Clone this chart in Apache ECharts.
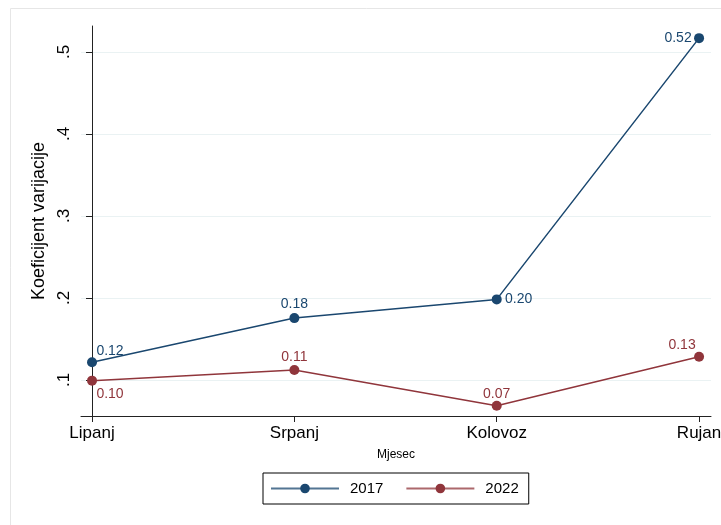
<!DOCTYPE html>
<html>
<head>
<meta charset="utf-8">
<script src="https://cdn.jsdelivr.net/npm/echarts@6/dist/echarts.min.js"></script>
<style>
html,body{margin:0;padding:0;background:#fff;overflow:hidden;}
#c{width:721px;height:525px;}
</style>
</head>
<body>
<div id="c"></div>
<script>
// Data
var categories = ['Lipanj', 'Srpanj', 'Kolovoz', 'Rujan'];
var seriesNames = ['2017', '2022'];
var values2017 = [0.1216, 0.1755, 0.1983, 0.5169];
var values2022 = [0.0992, 0.1122, 0.0687, 0.1284];
var yTicks = [0.1, 0.2, 0.3, 0.4, 0.5];

// Styling (label offsets relative to marker centre)
var offs2017 = [[18, -11], [0, -14], [22, 0], [-21, 0]];
var offs2022 = [[18, 13], [0, -13], [0, -12], [-17, -12]];
var colors = ['#1a476f', '#90353b'];
var FONT = 'Liberation Sans, Arial, Helvetica, sans-serif';

function toPoints(vals, offs, color) {
  return vals.map(function (v, i) {
    return {
      value: [i, v],
      label: {
        show: true, position: 'inside', offset: offs[i],
        formatter: function (p) { return p.value[1].toFixed(2); },
        color: color, fontSize: 14, fontFamily: FONT
      }
    };
  });
}

var chart = echarts.init(document.getElementById('c'), null, {renderer: 'canvas'});
var option = {
  backgroundColor: '#ffffff',
  animation: false,
  graphic: [{
    type: 'rect', silent: true, z: -10,
    shape: {x: 10.5, y: 8.5, width: 800, height: 600},
    style: {fill: 'none', stroke: '#e6e6e6', lineWidth: 1}
  }],
  grid: {left: 81, right: 10, top: 26, bottom: 109, containLabel: false, outerBoundsMode: 'none'},
  xAxis: {
    type: 'value', min: -0.0544, max: 3.059,
    axisLine: {show: true, lineStyle: {color: '#222', width: 1}},
    axisTick: {show: true, length: 6, customValues: [0, 1, 2, 3], lineStyle: {color: '#222'}},
    axisLabel: {
      customValues: [0, 1, 2, 3], margin: 9,
      formatter: function (v) { return categories[Math.round(v)]; },
      color: '#000', fontSize: 17, fontFamily: FONT
    },
    splitLine: {show: false},
    name: 'Mjesec', nameLocation: 'middle', nameGap: 33,
    nameTextStyle: {color: '#000', fontSize: 12, fontFamily: FONT}
  },
  yAxis: {
    type: 'value', min: 0.0561, max: 0.5317,
    axisLine: {show: true, lineStyle: {color: '#222', width: 1}},
    axisTick: {show: true, length: 6, customValues: yTicks, lineStyle: {color: '#222'}},
    axisLabel: {
      customValues: yTicks, rotate: 90, margin: 8,
      formatter: function (v) { return '.' + Math.round(v * 10); },
      color: '#000', fontSize: 17, fontFamily: FONT
    },
    splitLine: {show: true, lineStyle: {color: '#eaf2f3', width: 1}},
    name: 'Koeficijent varijacije', nameLocation: 'middle', nameGap: 29,
    nameTextStyle: {color: '#000', fontSize: 18, fontFamily: FONT}
  },
  legend: {
    data: seriesNames,
    left: 263, top: 473,
    orient: 'horizontal',
    padding: [8, 10, 8, 7],
    itemWidth: 68, itemHeight: 12, itemGap: 22,
    borderColor: '#000', borderWidth: 1,
    textStyle: {color: '#000', fontSize: 15, fontFamily: FONT, padding: [0, 0, 0, 6]},
    lineStyle: {opacity: 0.75}
  },
  series: [
    {
      name: seriesNames[0], type: 'line',
      data: toPoints(values2017, offs2017, colors[0]),
      symbol: 'circle', symbolSize: 10,
      itemStyle: {color: colors[0]},
      lineStyle: {color: colors[0], width: 1.5}
    },
    {
      name: seriesNames[1], type: 'line',
      data: toPoints(values2022, offs2022, colors[1]),
      symbol: 'circle', symbolSize: 10,
      itemStyle: {color: colors[1]},
      lineStyle: {color: colors[1], width: 1.5}
    }
  ]
};
chart.setOption(option);
</script>
</body>
</html>
